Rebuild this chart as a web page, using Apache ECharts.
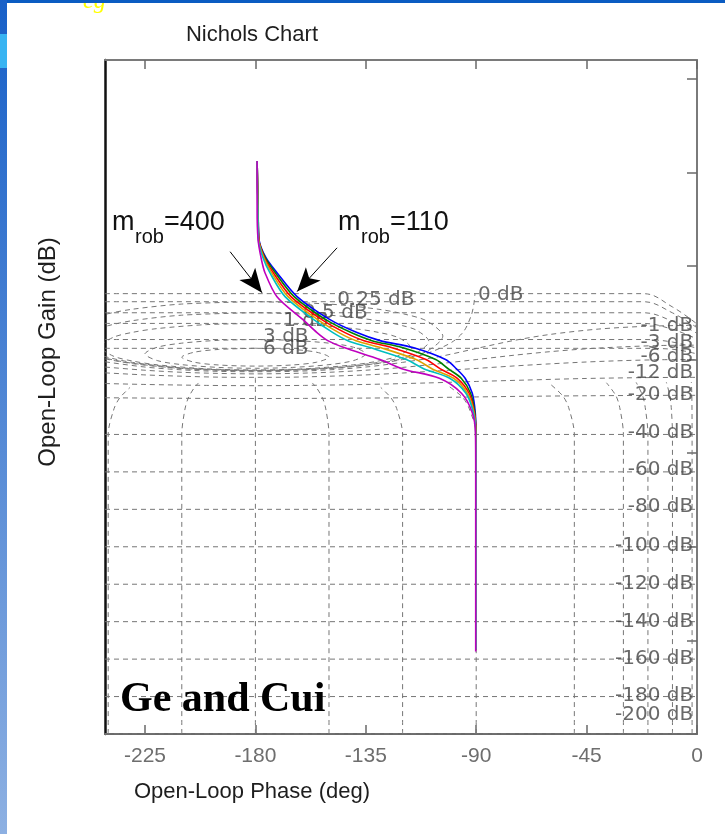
<!DOCTYPE html>
<html><head><meta charset="utf-8">
<script src="https://cdn.jsdelivr.net/npm/echarts@6/dist/echarts.min.js"></script>
<style>html,body{margin:0;padding:0;background:#fff}#c{width:725px;height:834px}</style>
</head><body><div id="c"></div>
<script>
// ---- axis ticks ----
const phaseTicks = [-225, -180, -135, -90, -45, 0];
const gainTicks = [-200, -150, -100, -50, 0, 50, 100, 150];

// ---- open-loop responses [phase deg, gain dB] ----
const curveBlue = [[-179.3,106],[-178.9,80],[-178.5,64],[-175.7,54.4],[-171.2,46.4],[-163.0,33.6],[-149.6,21.3],[-138.6,14.4],[-129.2,10.1],[-115.8,6.4],[-102.5,0],[-98,-5],[-94.5,-10],[-91.6,-18],[-90.4,-28],[-90.1,-39],[-90,-60],[-90,-100],[-90,-155]];
const curveGreen = [[-179.3,106],[-178.9,80],[-178.6,64],[-176.0,54.4],[-171.9,46.4],[-164.2,33.6],[-151.3,21.3],[-141.0,14.4],[-132.5,10.1],[-120.2,6.4],[-106.5,0],[-101.3,-5],[-96.1,-10],[-92.3,-18],[-90.6,-28],[-90.1,-39],[-90,-60],[-90,-100],[-90,-155]];
const curveRed = [[-179.3,106],[-178.9,80],[-178.6,64],[-176.3,54.4],[-172.7,46.4],[-165.5,33.6],[-152.9,21.3],[-143.5,14.4],[-135.7,10.1],[-124.6,6.4],[-110.5,0],[-104.6,-5],[-97.7,-10],[-92.9,-18],[-90.8,-28],[-90.1,-39],[-90,-60],[-90,-100],[-90,-155]];
const curveYellow = [[-179.3,106],[-179.0,80],[-178.7,64],[-176.6,54.4],[-173.4,46.4],[-166.7,33.6],[-154.6,21.3],[-146.0,14.4],[-139.0,10.1],[-129.0,6.4],[-114.5,0],[-107.9,-5],[-99.2,-10],[-93.6,-18],[-91.0,-28],[-90.2,-39],[-90.1,-60],[-90.1,-100],[-90.1,-155]];
const curveCyan = [[-179.3,106],[-179.0,80],[-178.8,64],[-176.9,54.4],[-174.1,46.4],[-167.9,33.6],[-156.2,21.3],[-148.4,14.4],[-142.3,10.1],[-133.3,6.4],[-118.5,0],[-111.2,-5],[-100.8,-10],[-94.2,-18],[-91.2,-28],[-90.2,-39],[-90.1,-60],[-90.1,-100],[-90.1,-155]];
const curveMagenta = [[-179.3,106],[-179.3,80],[-178.9,64],[-177.7,54.4],[-176.1,46.4],[-171.2,33.6],[-160.6,21.3],[-154.9,14.4],[-150.5,10.1],[-143.9,6.4],[-129.2,0],[-120,-5],[-105,-10],[-96,-18],[-91.7,-28],[-90.3,-39],[-90.2,-60],[-90.2,-100],[-90.2,-156]];

// ---- Nichols grid: closed-loop magnitude contours [phase, gain] ----
const m0 = [[-241.3,0.36],[-230,-2.2],[-210,-4.8],[-195,-5.7],[-180,-6.0],[-165,-5.7],[-150,-4.8],[-135,-3.0],[-120,0],[-110,3.3],[-100,9.2],[-95,15.2],[-92,23.6],[-91,29.2],[-90.5,35.2]];
const loopTopGains = [35.2, 30.9, 25.0, 19.3, 10.7, 6.0];
const loopTopEnds = [19, 17, 14, 11, 6, 3];
const mPos025 = [[-180,30.94],[-210,29.64],[-230,26.9],[-241,24.2],[-250,20.5],[-256.4,12.5],[-250,4.45],[-241,0.71],[-230,-2.0],[-210,-4.73],[-180,-6.0],[-150,-4.73],[-130,-2.0],[-119,0.71],[-110,4.45],[-103.6,12.5],[-110,20.5],[-119,24.2],[-130,26.9],[-150,29.64],[-180,30.94]];
const mPos05 = [[-180,25.04],[-210,23.7],[-230,20.8],[-240,18.1],[-246,15.45],[-250.7,9.65],[-246,3.81],[-240,1.15],[-230,-1.55],[-210,-4.44],[-180,-5.78],[-150,-4.44],[-130,-1.55],[-120,1.15],[-114,3.81],[-109.3,9.65],[-114,15.45],[-120,18.1],[-130,20.8],[-150,23.7],[-180,25.04]];
const mPos1 = [[-180,19.27],[-200,18.66],[-220,16.55],[-230,14.55],[-238,11.84],[-243,6.88],[-238,1.89],[-230,-0.81],[-220,-2.81],[-200,-4.93],[-180,-5.53],[-160,-4.93],[-140,-2.81],[-130,-0.81],[-122,1.89],[-117,6.88],[-122,11.84],[-130,14.55],[-140,16.55],[-160,18.66],[-180,19.27]];
const mPos3 = [[-180,10.7],[-195,10.26],[-210,8.76],[-220,6.58],[-225,3.03],[-220,-0.54],[-210,-2.72],[-195,-4.2],[-180,-4.66],[-165,-4.2],[-150,-2.72],[-140,-0.54],[-135,3.03],[-140,6.58],[-150,8.76],[-165,10.26],[-180,10.7]];
const mPos6 = [[-180,6.04],[-195,5.4],[-205,3.9],[-210,1.27],[-205,-1.4],[-195,-2.9],[-180,-3.5],[-165,-2.9],[-155,-1.4],[-150,1.27],[-155,3.9],[-165,5.4],[-180,6.04]];
const mNeg1 = [[-241.3,-1.2],[-225,-4.0],[-210,-5.5],[-195,-6.3],[-180,-6.5],[-165,-6.3],[-150,-5.5],[-135,-4.0],[-120,-1.5],[-105,1.6],[-90,5.9],[-75,10.1],[-60,13.4],[-40,16.3],[-20,17.8],[0,18.3]];
const mNeg3 = [[-241.3,-4.0],[-225,-5.7],[-210,-6.8],[-195,-7.4],[-180,-7.65],[-165,-7.4],[-150,-6.8],[-135,-5.7],[-120,-4.2],[-105,-2.2],[-90,0],[-75,2.25],[-60,4.2],[-45,5.75],[-30,6.8],[-15,7.5],[0,7.7]];
const mNeg6 = [[-241.3,-7.1],[-225,-8.2],[-210,-8.9],[-195,-9.4],[-180,-9.5],[-165,-9.4],[-150,-8.9],[-135,-8.2],[-120,-7.2],[-105,-6.0],[-90,-4.75],[-75,-3.45],[-60,-2.3],[-45,-1.3],[-30,-0.56],[-15,-0.1],[0,0.03]];
const mNeg12 = [[-241.3,-12.8],[-225,-13.3],[-200,-13.8],[-180,-13.95],[-160,-13.8],[-135,-13.3],[-110,-12.5],[-90,-11.7],[-70,-10.96],[-45,-10.1],[-20,-9.64],[0,-9.5]];
const mNeg20 = [[-241.3,-20.4],[-225,-20.57],[-200,-20.75],[-180,-20.8],[-160,-20.75],[-135,-20.57],[-110,-20.3],[-90,-19.96],[-70,-19.62],[-45,-19.34],[-20,-19.15],[0,-19.1]];
const mLowLevels = [-40, -60, -80, -100, -120, -140, -160, -180, -200];

// ---- closed-loop phase contours [phase, gain] ----
const nM240 = [[-240,-200],[-240,-40],[-237.6,-26.2],[-235.3,-20.5],[-231.1,-14.9]];
const nM210 = [[-210,-200],[-210,-40],[-208.7,-26.4],[-207.4,-20.7],[-205.1,-15.4],[-203.2,-12.5]];
const nM180 = [[-180,-200],[-180,-9.5]];
const nM150 = [[-150,-200],[-150,-40],[-151.3,-26.4],[-152.6,-20.7],[-154.9,-15.4],[-156.8,-12.5]];
const nM120 = [[-120,-200],[-120,-40],[-122.4,-26.2],[-124.7,-20.5],[-128.9,-14.9]];
const nM90 = [[-90,-200],[-90,-40],[-92.9,-26],[-95.7,-20.0],[-101.3,-14.1]];
const nM50 = [[-50,-200],[-50,-40],[-52.3,-25.7],[-54.7,-19.45],[-60,-12.9]];
const nM30 = [[-30,-200],[-30,-40],[-31.5,-25.6],[-33.1,-19.2],[-36.9,-12.4]];
const nM20 = [[-20,-200],[-20,-40],[-21.1,-25.6],[-22.2,-19.15],[-24.8,-12.2]];
const nM10 = [[-10,-200],[-10,-40],[-10.5,-25.6],[-11.1,-19.1],[-12.5,-12.1]];
const nM2 = [[-2,-200],[-2,-40],[-2.1,-19.1],[-2.3,-12]];

// ---- grid labels [phase, gain, text] ----
const leftLabels = [[-89.3,34.7,'0 dB'],[-146.7,32,'0.25 dB'],[-160.6,25.1,'0.5 dB'],[-168.7,20.5,'1 dB'],[-176.9,12.0,'3 dB'],[-176.9,6.0,'6 dB']];
const rightLabels = [[-1.5,18.1,'-1 dB'],[-1.5,9.1,'-3 dB'],[-1.5,1.6,'-6 dB'],[-1.5,-6.9,'-12 dB'],[-1.5,-18.7,'-20 dB'],[-1.5,-38.9,'-40 dB'],[-1.5,-58.7,'-60 dB'],[-1.5,-78.9,'-80 dB'],[-1.5,-99.7,'-100 dB'],[-1.5,-120,'-120 dB'],[-1.5,-140.3,'-140 dB'],[-1.5,-160,'-160 dB'],[-1.5,-179.7,'-180 dB'],[-1.5,-189.9,'-200 dB']];

// ---- arrows [from, to] ----
const arrowLeft = [[-190.3,57.6],[-177.3,35.7]];
const arrowRight = [[-146.7,59.7],[-163.0,36.3]];

const XMIN = -241.3, XMAX = 0;
const gridStyle = {color:'#767676', width:1, type:[5,4]};
function gridSeries(data, smooth){
  return {type:'line', data:data, symbol:'none', silent:true, smooth:(smooth===undefined?0.3:smooth), lineStyle:gridStyle, z:2, animation:false};
}
const contourSeries = [m0, mPos025, mPos05, mPos1, mPos3, mPos6, mNeg1, mNeg3, mNeg6, mNeg12, mNeg20,
  nM240, nM210, nM180, nM150, nM120, nM90, nM50, nM30, nM20, nM10, nM2].map(function(d){return gridSeries(d);});
loopTopGains.forEach(function(g, i){
  contourSeries.push(gridSeries([[XMIN,g],[-22,g],[-10,(g+loopTopEnds[i])/2+1],[0,loopTopEnds[i]]], 0.4));
});
mLowLevels.forEach(function(g){ contourSeries.push(gridSeries([[XMIN,g],[XMAX,g]], 0)); });

function curve(data, color){
  return {type:'line', data:data, symbol:'none', smooth:0.3, lineStyle:{color:color, width:1.6}, z:5, animation:false};
}
const curves = [
  curve(curveBlue,'#0000ff'), curve(curveGreen,'#008000'), curve(curveRed,'#ff0000'),
  curve(curveYellow,'#e0a000'), curve(curveCyan,'#00bfbf'), curve(curveMagenta,'#bf00bf')
];

const labelFont = {fontSize:20, color:'#444444', fontFamily:'DejaVu Sans, Arial, sans-serif'};
const labelSeries = [
  {type:'scatter', data:leftLabels, symbolSize:0.1, itemStyle:{color:'rgba(0,0,0,0)'}, silent:true, z:4, animation:false,
   label:Object.assign({show:true, position:'right', distance:0, formatter:function(p){return p.data[2];}}, labelFont)},
  {type:'scatter', data:rightLabels, symbolSize:0.1, itemStyle:{color:'rgba(0,0,0,0)'}, silent:true, z:4, animation:false,
   label:Object.assign({show:true, position:'left', distance:0, formatter:function(p){return p.data[2];}}, labelFont)}
];

const arrowSeries = {type:'line', data:[], silent:true, z:6, animation:false,
  markLine:{silent:true, symbol:['none','arrow'], symbolSize:[15,24], animation:false,
    lineStyle:{color:'#000', width:1, type:'solid'}, label:{show:false},
    data:[[{coord:arrowLeft[0]},{coord:arrowLeft[1]}],[{coord:arrowRight[0]},{coord:arrowRight[1]}]]}};

const chart = echarts.init(document.getElementById('c'), null, {renderer:'canvas'});
const sans = 'Liberation Sans, Arial, Helvetica, sans-serif';
const txt = function(x,y,text,size,opts){
  return {type:'text', x:x, y:y, z:100, style:Object.assign({text:text, fontSize:size, fontFamily:sans, fill:'#222', textAlign:'left', textVerticalAlign:'middle'}, opts||{})};
};
chart.setOption({
  backgroundColor:'#ffffff',
  animation:false,
  grid:{left:105, right:28, top:60, bottom:100},
  xAxis:[
    {type:'value', min:XMIN, max:XMAX, position:'bottom',
     axisLine:{show:true, onZero:false, lineStyle:{color:'#6a6a6a', width:2}},
     axisTick:{show:true, inside:true, length:9, customValues:phaseTicks, lineStyle:{color:'#6a6a6a', width:1.5}},
     axisLabel:{show:true, customValues:phaseTicks, fontSize:21, color:'#6e6e6e', margin:12, fontFamily:sans},
     splitLine:{show:false}},
    {type:'value', min:XMIN, max:XMAX, position:'top',
     axisLine:{show:true, onZero:false, lineStyle:{color:'#7a7a7a', width:2}},
     axisTick:{show:true, inside:true, length:9, customValues:phaseTicks, lineStyle:{color:'#6a6a6a', width:1.5}},
     axisLabel:{show:false}, splitLine:{show:false}}
  ],
  yAxis:[
    {type:'value', min:-200, max:160, position:'left',
     axisLine:{show:true, onZero:false, lineStyle:{color:'#111', width:2.5}},
     axisTick:{show:false}, axisLabel:{show:false}, splitLine:{show:false}},
    {type:'value', min:-200, max:160, position:'right',
     axisLine:{show:true, onZero:false, lineStyle:{color:'#7a7a7a', width:2}},
     axisTick:{show:true, inside:true, length:10, customValues:gainTicks, lineStyle:{color:'#6a6a6a', width:1.5}},
     axisLabel:{show:false}, splitLine:{show:false}}
  ],
  series: contourSeries.concat(curves, labelSeries, [arrowSeries]),
  graphic:[
    {type:'rect', shape:{x:0,y:0,width:725,height:3}, style:{fill:'#0b5cc2'}, z:200},
    {type:'rect', shape:{x:0,y:0,width:7,height:834}, style:{fill:new echarts.graphic.LinearGradient(0,0,0,1,[{offset:0,color:'#1860c8'},{offset:1,color:'#8db0e2'}])}, z:200},
    {type:'rect', shape:{x:0,y:34,width:7,height:34}, style:{fill:'#38b4f2'}, z:201},
    txt(83,2,'eg',24,{fill:'#ffff00', fontFamily:'Liberation Serif, serif', fontStyle:'italic'}),
    txt(252,35,'Nichols Chart',22,{textAlign:'center', fill:'#1e1e1e'}),
    txt(252,792,'Open-Loop Phase (deg)',22,{textAlign:'center', fill:'#1e1e1e'}),
    Object.assign(txt(48,352,'Open-Loop Gain (dB)',24,{textAlign:'center', fill:'#1e1e1e'}),{rotation:Math.PI/2}),
    txt(120,700,'Ge and Cui',42,{fontFamily:'Liberation Serif, Times New Roman, serif', fontWeight:'bold', fill:'#000'}),
    txt(112,223,'m',27,{fill:'#111'}),
    txt(135,237,'rob',20,{fill:'#111'}),
    txt(164,223,'=400',27,{fill:'#111'}),
    txt(338,223,'m',27,{fill:'#111'}),
    txt(361,237,'rob',20,{fill:'#111'}),
    txt(390,223,'=110',27,{fill:'#111'})
  ]
});
</script>
</body></html>
